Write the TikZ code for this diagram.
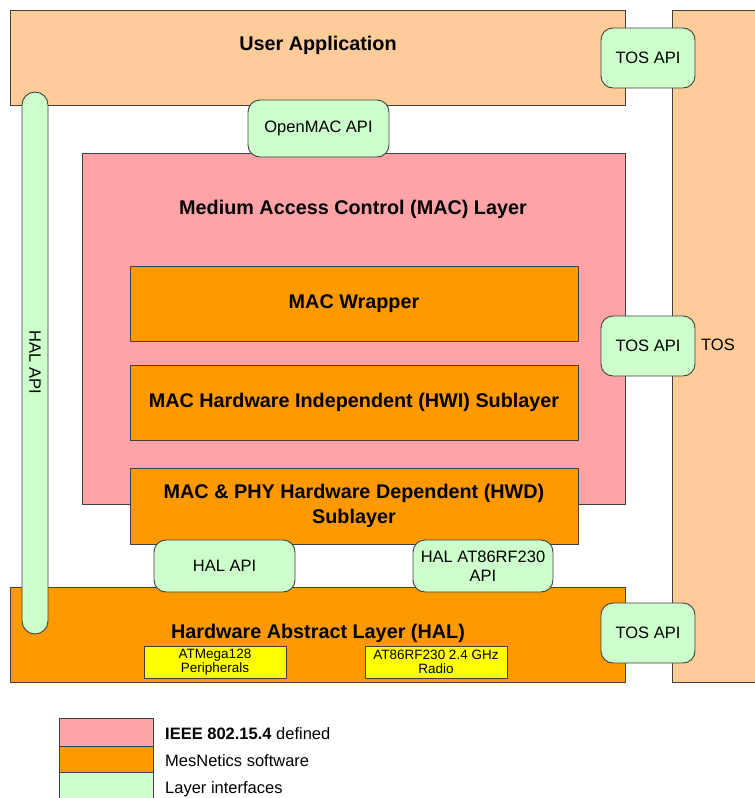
\documentclass[tikz,border=0pt]{standalone}
\usepackage{fontspec}
\setmainfont{Liberation Sans}
\definecolor{peach}{HTML}{FFCC99}
\definecolor{pinkc}{HTML}{FFA3A6}
\definecolor{orangec}{HTML}{FF9900}
\definecolor{greenc}{HTML}{CCFFCC}
\definecolor{yellowc}{HTML}{FFFF00}
\definecolor{edgec}{HTML}{404040}
\begin{document}
\begin{tikzpicture}[x=1pt,y=-1pt,
  box/.style={draw=edgec, line width=0.9pt, inner sep=0pt, outer sep=0pt},
  peachbox/.style={box, fill=peach},
  pinkbox/.style={box, fill=pinkc},
  orangebox/.style={box, fill=orangec},
  yellowbox/.style={box, fill=yellowc, align=center, font=\fontsize{13.5}{13.5}\selectfont},
  api/.style={box, fill=greenc, rounded corners=12pt, align=center, font=\fontsize{16.5}{19.5}\selectfont},
  title/.style={font=\fontsize{19.8}{25}\selectfont\bfseries, align=center, inner sep=0pt},
  legtext/.style={font=\fontsize{16.5}{19}\selectfont, anchor=west, inner sep=0pt}]
\useasboundingbox (0,0) rectangle (755,798);
% TOS column
\node[peachbox, minimum width=118pt, minimum height=672pt] (tos) at (731,346) {};
\node[font=\fontsize{16.5}{19}\selectfont] (tostxt) at (718,345) {TOS};
% User application
\node[peachbox, minimum width=615pt, minimum height=95pt] (user) at (317.5,57.5) {};
\node[title] (usertxt) at (318,45) {User Application};
% HAL layer
\node[orangebox, minimum width=615pt, minimum height=95pt] (hal) at (317.5,634.5) {};
\node[title] (haltxt) at (318,633) {Hardware Abstract Layer (HAL)};
\node[yellowbox, minimum width=142pt, minimum height=32pt] (atmega) at (215,662) {ATMega128\\Peripherals};
\node[yellowbox, minimum width=142pt, minimum height=32pt] (radio) at (436,662) {AT86RF230 2.4 GHz\\Radio};
% MAC layer
\node[pinkbox, minimum width=543pt, minimum height=351pt] (mac) at (353.5,328.5) {};
\node[title] (mactxt) at (353,209) {Medium Access Control (MAC) Layer};
\node[orangebox, title, minimum width=448pt, minimum height=75pt] (wrap) at (354,303.5) {MAC Wrapper};
\node[orangebox, title, minimum width=448pt, minimum height=75pt] (hwi) at (354,402.5) {MAC Hardware Independent (HWI) Sublayer};
\node[orangebox, title, minimum width=448pt, minimum height=76pt] (hwd) at (354,506) {MAC \& PHY Hardware Dependent (HWD)\\Sublayer};
% interfaces
\node[api, minimum width=26pt, minimum height=542pt, rounded corners=13pt] (halv) at (35,363) {};
\node[rotate=-90, font=\fontsize{16.5}{19}\selectfont] (halvtxt) at (35,362) {HAL API};
\node[api, minimum width=141pt, minimum height=57pt] (openmac) at (318.5,128.5) {OpenMAC API};
\node[api, minimum width=94pt, minimum height=60pt] (tosapi1) at (648,58) {TOS API};
\node[api, minimum width=94pt, minimum height=60pt] (tosapi2) at (648,346) {TOS API};
\node[api, minimum width=94pt, minimum height=60pt] (tosapi3) at (648,633) {TOS API};
\node[api, minimum width=141pt, minimum height=52pt] (halapi) at (224.5,566) {HAL API};
\node[api, minimum width=140pt, minimum height=52pt] (halrf) at (483,566) {HAL AT86RF230\\API};
% legend
\node[pinkbox, minimum width=94pt, minimum height=28pt] (legpink) at (106,732) {};
\node[orangebox, minimum width=94pt, minimum height=26pt] (legorange) at (106,759) {};
\node[box, fill=greenc, minimum width=94pt, minimum height=30pt] (leggreen) at (106,787) {};
\node[legtext] (legpinktxt) at (165,734) {\textbf{IEEE 802.15.4} defined};
\node[legtext] (legorangetxt) at (165,761) {MesNetics software};
\node[legtext] (leggreentxt) at (165,789) {Layer interfaces};
\end{tikzpicture}
\end{document}
